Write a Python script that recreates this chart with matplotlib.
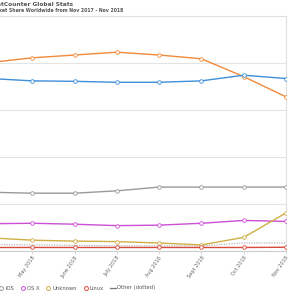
import matplotlib
matplotlib.use('Agg')
import matplotlib.pyplot as plt
from matplotlib.lines import Line2D

months = ['Apr 2018', 'May 2018', 'June 2018', 'July 2018', 'Aug 2018',
          'Sept 2018', 'Oct 2018', 'Nov 2018']
android = [40.1, 41.1, 41.7, 42.3, 41.7, 40.9, 37.1, 32.8]
windows = [36.7, 36.2, 36.1, 35.9, 35.9, 36.2, 37.4, 36.7]
ios = [12.5, 12.3, 12.3, 12.8, 13.6, 13.6, 13.6, 13.6]
osx = [5.8, 5.9, 5.7, 5.4, 5.5, 5.9, 6.5, 6.3]
unknown = [2.8, 2.3, 2.1, 2.0, 1.7, 1.3, 2.9, 8.1]
linux = [0.75, 0.75, 0.75, 0.75, 0.75, 0.75, 0.75, 0.8]
other = [1.4, 1.3, 1.2, 1.1, 1.1, 1.1, 1.7, 1.7]

series = [('Android', android, '#f28a3a'),
          ('Windows', windows, '#3d8fd8'),
          ('iOS', ios, '#9a9a9a'),
          ('OS X', osx, '#cc4fd6'),
          ('Unknown', unknown, '#cfae45'),
          ('Linux', linux, '#d9493c')]

W, H = 300, 300
fig = plt.figure(figsize=(3, 3), dpi=100)
# the chart is cropped on the left, so the axes start off-canvas
ax = fig.add_axes([-10 / W, 1 - 251 / H, 296 / W, (251 - 16) / H])

x = list(range(len(months)))
for name, vals, col in series:
    ax.plot(x, vals, color=col, lw=1.0, marker='o', ms=2.6,
            mfc='white', mec=col, mew=0.6, zorder=3)
ax.plot(x, other, color='#b5b5b5', lw=0.9, ls=(0, (1, 1)), zorder=2)

ax.set_xlim(0, 7)
ax.set_ylim(0, 50)
ax.set_yticks([0, 10, 20, 30, 40, 50])
ax.set_yticklabels([])
ax.tick_params(axis='y', length=0)
ax.grid(axis='y', color='#e4e4e4', lw=0.8)
ax.set_axisbelow(True)
ax.set_xticks(x)
ax.set_xticklabels(months, rotation=55, ha='right', va='top',
                   rotation_mode='anchor', fontsize=3.6, color='#666666')
ax.tick_params(axis='x', length=2, width=0.5, color='#cccccc', pad=1)
for s in ['top', 'right', 'left']:
    ax.spines[s].set_color('#e0e0e0')
    ax.spines[s].set_linewidth(0.8)
ax.spines['bottom'].set_color('#cccccc')
ax.spines['bottom'].set_linewidth(0.8)

fig.text(73 / W, 1 - 5 / H, 'StatCounter Global Stats', ha='right',
         va='center', fontsize=4.2, fontweight='bold', color='#555555')
fig.text(123 / W, 1 - 10.5 / H,
         'Operating System Market Share Worldwide from Nov 2017 - Nov 2018',
         ha='right', va='center', fontsize=3.3, fontweight='bold',
         color='#555555')

handles = [Line2D([], [], ls='none', marker='o', ms=2.8, mfc='white',
                  mec=col, mew=0.7) for _, _, col in series]
handles.append(Line2D([], [], color='#777777', lw=0.9))
labels = [s[0] for s in series] + ['Other (dotted)']
fig.legend(handles, labels, loc='center right', ncol=7,
           bbox_to_anchor=(158 / W, 1 - 288 / H), frameon=False,
           fontsize=3.8, handlelength=1.0, handletextpad=0.3,
           columnspacing=1.15, labelcolor='#555555', borderpad=0)

fig.savefig('out.png', dpi=100)
